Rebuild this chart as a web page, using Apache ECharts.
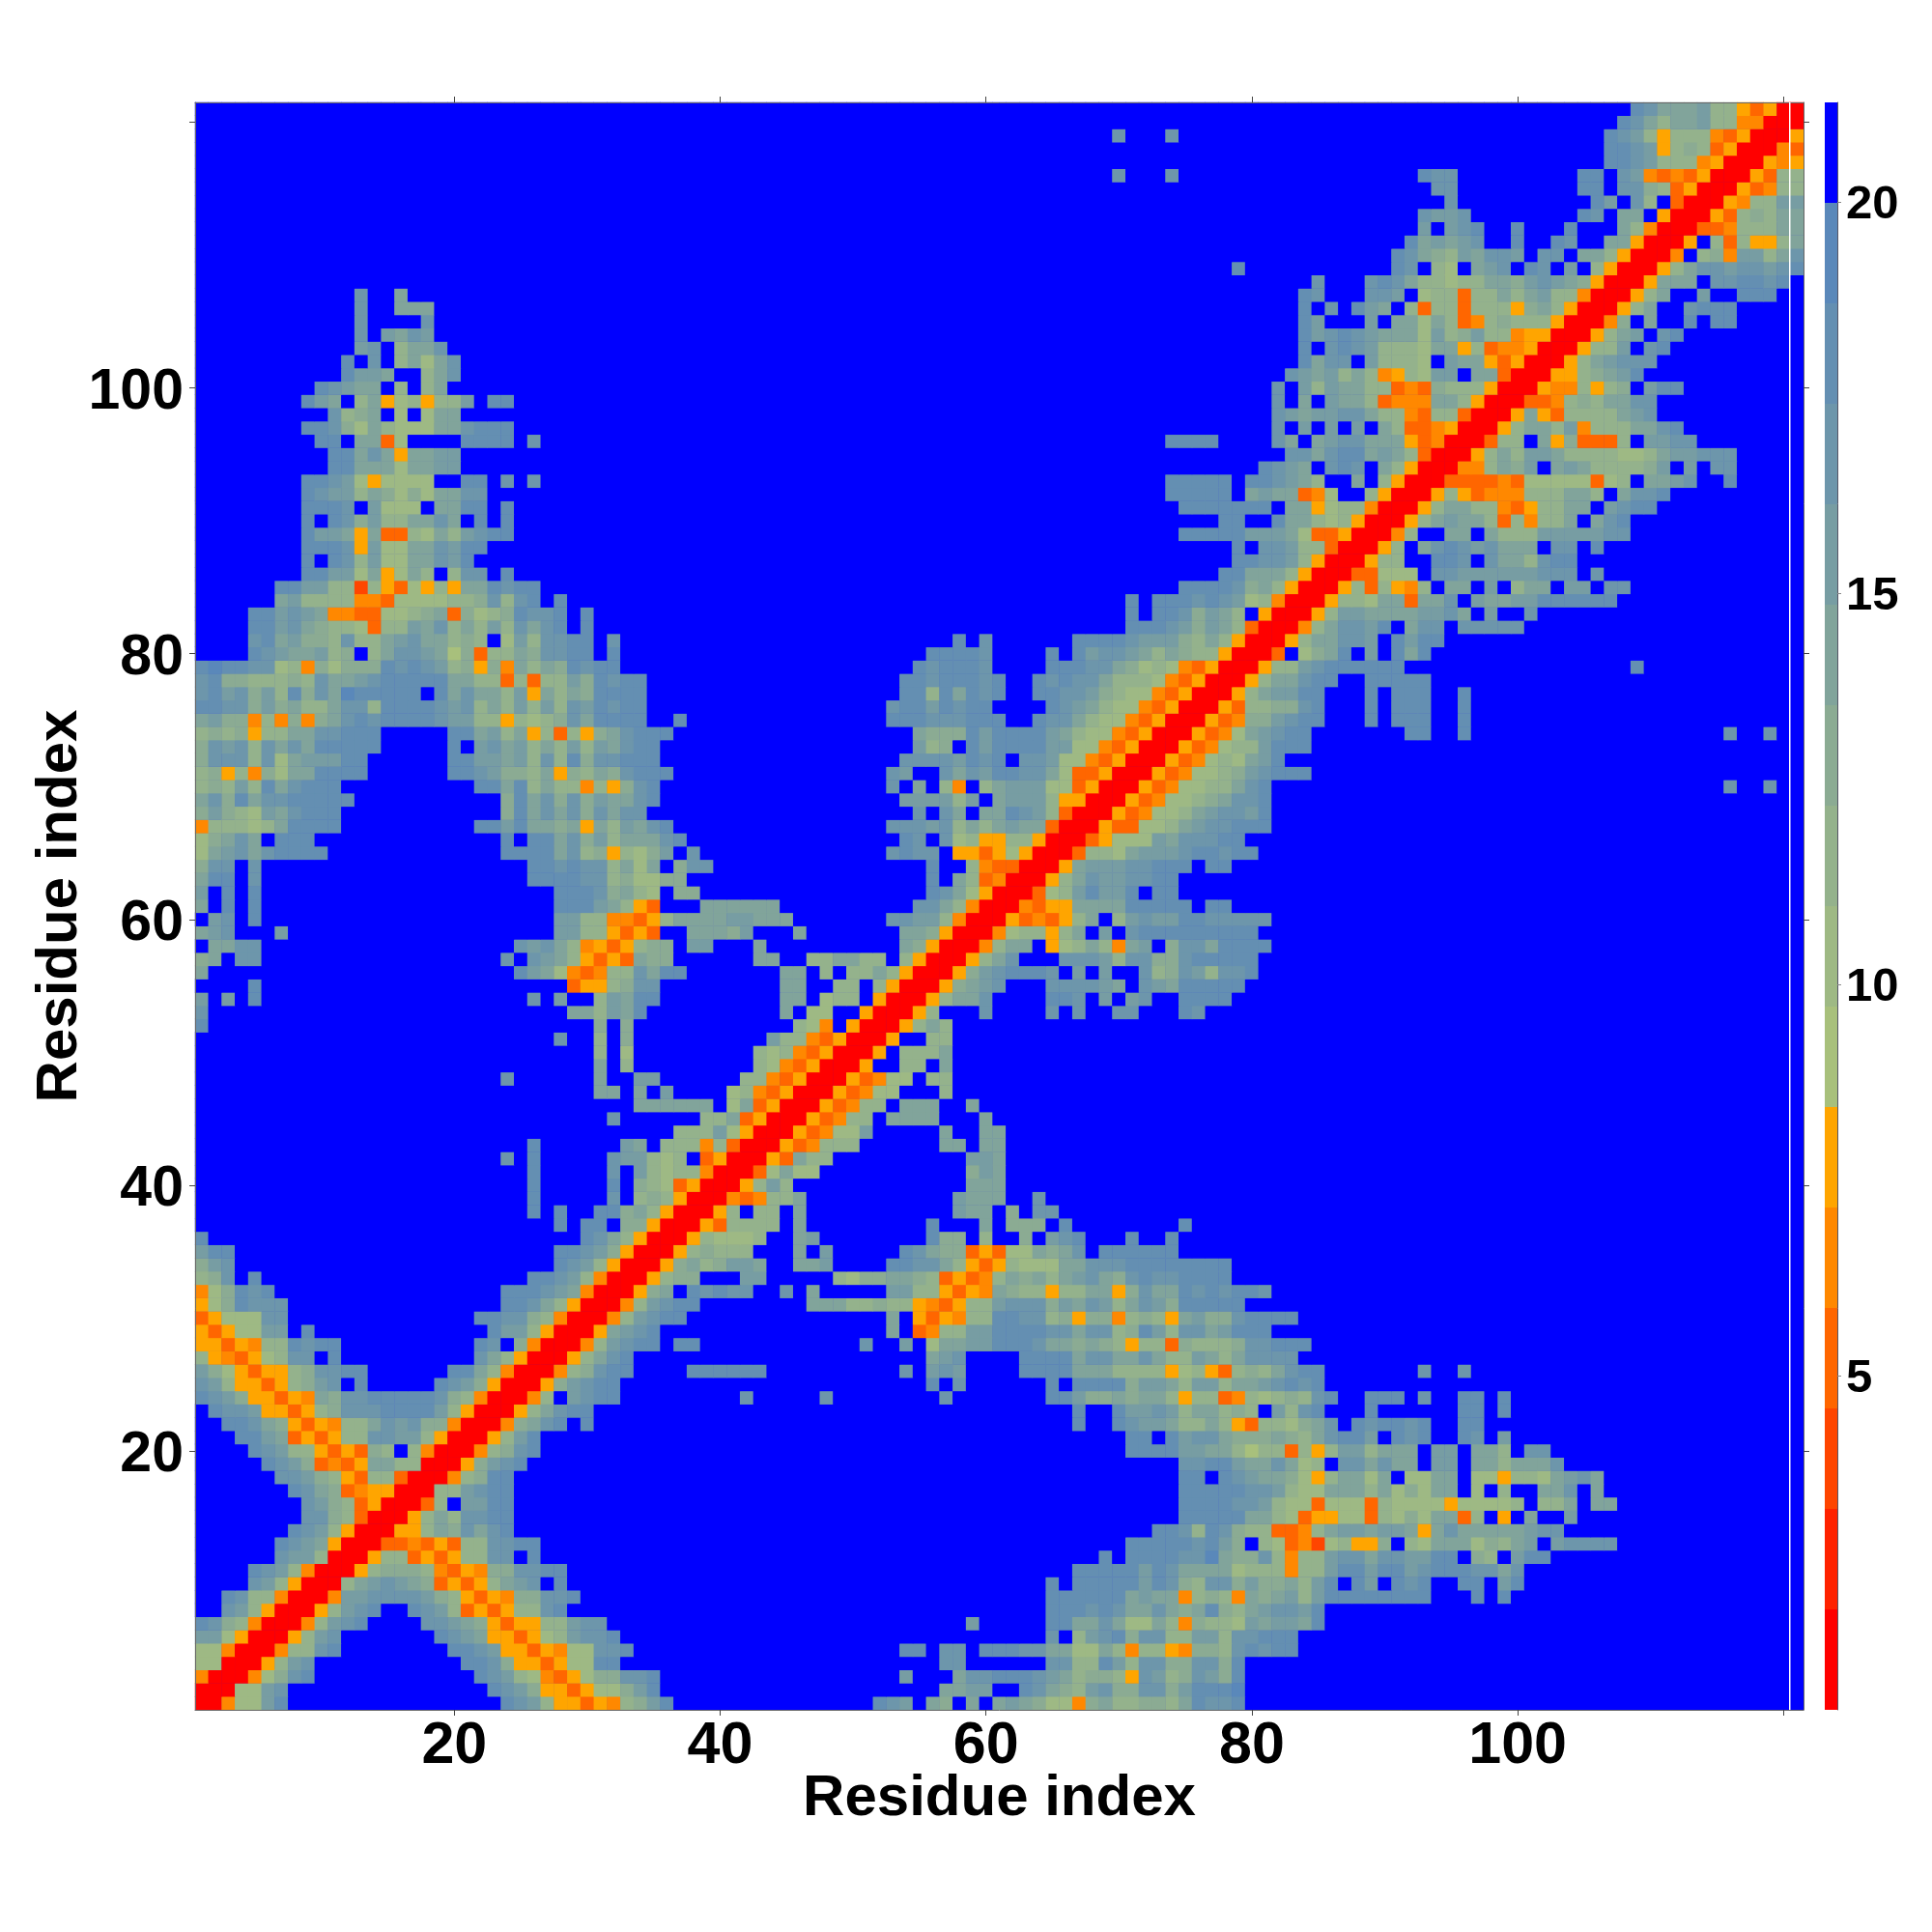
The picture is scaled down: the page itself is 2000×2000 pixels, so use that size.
<!DOCTYPE html>
<html>
<head>
<meta charset="utf-8">
<style>html,body{margin:0;padding:0;background:#fff}#c{width:2000px;height:2000px}</style>
<script src="https://cdn.jsdelivr.net/npm/echarts@6/dist/echarts.min.js"></script>
</head>
<body>
<div id="c"></div>
<script>
// Contact map. One entry per residue y (1..121): "x:levels" runs for x >= y,
// levels are colour-band numbers in hex (0 red .. e steel); anything unlisted is band f (blue).
const upperRows = [
"1:00477bd 24:dcb85535489bd 52:dcb 56:a9 59:a 61:aba97749a88998adccd",
"2:0077bc 23:dcb95535779bd 57:aabb 63:dca98bc99cc9bddde",
"3:00479cd 22:dcb87435799ccd 54:b 58:accdddcba89985cb89cb9d",
"4:0058bc 21:ddc9553577dd 57:cc 65:cc88db8cc99cc9d",
"5:00488cd 20:ddcb5535477ccd 54:dd 57:cc 60:dddccaa77a848854998cdcdd",
"6:0058bc 19:dcba553578bccd 65:c 67:8bcd9cc88bb8ccddd",
"7:0048bcd 18:ccba9535588bcc 59:b 65:ddaaca77a849887babbad",
"8:0058bcd 17:dcb8353588cd 65:dddcdcaaca9ad98abccbd",
"9:004bbccccb98535499ccd 65:ddddddabaa48984a9ab8bdddddddd 97:d 99:d",
"10:008abcba935358abc 28:d 65:d 67:dddddbdc98cc9b99a8bd 88:db 91:dcd 96:dd 99:bd",
"11:00589998435499ccdd 67:dddddbdcaaaa7888488bddbddbcdddccac",
"12:00588353588cc 26:d 69:d 71:ddddccea99c8488bccaccbbdd 97:98 100:bdd",
"13:0033435388ccdd 71:dddddcdb9 81:8734278559 92:87aaa798ab 103:bcccc",
"14:00558a9cacd 73:ddc8dc9883348abbabba5acaaaaabcc",
"15:0058a8ccdd 75:dddddaa873557738797aa38 99:5 101:a 104:b",
"16:0038 21:bbdd 75:ddddccb8773777387777577778 102:88a 106:aa",
"17:0088bcdd 75:dddddccb877aaa8a797aa 97:7 99:8 102:aac 106:a",
"18:00489dd 75:dd 78:dcbaa9758aa7a 92:77aa 97:775887abca",
"19:0059bcd 75:ccddbaaca78 87:ccacaa 94:bb 97:aa8aaac",
"20:00489cd 71:ddddbbaa86883858bb8aaa 94:bb 97:aa8 101:cc",
"21:0058bd 71:dd 74:dbcca999a98acddb 91:dcd 96:dc 99:b",
"22:0049acd 30:d 67:d 70:dcbba88a8538879ac 88:dcddcd 96:dd",
"23:0058acdd 67:d 70:dbbcb8aa898 82:b8cd 89:d 96:dd 99:d",
"24:0048 29:bcdd 42:c 48:c 57:c 65:ddb99a9aa85883487898cd 89:ddd 93:c 96:dd 99:d",
"25:0059bcdd 56:d 58:c 65:d 67:dddd9bba8bb8aabcdcd",
"26:00489cdd 38:dddddd 54:c 56:bcb 63:ddddaaa888857853898acdd 93:c 96:c",
"27:0058acd 56:abc 63:ddddaccaaca88ba8acccc",
"28:0048bcdd 37:dd 51:c 54:b 56:7aabbdddcaa9a98588398889ccddd",
"29:005abcd 53:a 55:3488bbddddccacc89db8ccabddd",
"30:0048bcdd 53:a 55:535488ddcc8959948985ab99cdddd",
"31:0048bcdd 47:aaa88988543588bccc9bacb8acb9ddddd",
"32:0059a 38:dcdcc 45:c 47:a 53:bb885354a988588aa59caadcdcddc",
"33:005899 42:bb 49:8799aa9835348a9a8abca9cdccdddd",
"34:0059a89bba 46:aab 53:ddcca85358777aacccdddddddd",
"35:00589888 46:a 48:b 54:dca9935377a9ac 69:dddddd",
"36:00587778 46:ab 56:d99 60:8 63:9 65:bcd 71:d 74:d",
"37:00538888 46:a 56:d 60:a 62:999 66:d 75:d",
"38:0058 43:88 46:a 58:baa 62:9 64:cc",
"39:0043488a 58:baaa 64:c",
"40:0058b8 59:aaa",
"41:0037a77 59:9ba",
"42:0053a88 59:bba",
"43:00534888 57:aa 60:aa",
"44:0053477b 57:a 60:aa",
"45:0053488 53:aaaa 60:a",
"46:0053488 54:aaa 59:a",
"47:0053477 57:8",
"48:0053477 56:88",
"49:005 54:88 57:a",
"50:005 54:888a",
"51:005 56:88",
"52:0058a8",
"53:0058 60:c 65:c 67:c 70:cc 75:dc",
"54:0058aac 65:ddc 69:b 71:bc 75:dddd",
"55:0059abc 65:ccccba 72:cbaddddd",
"56:0059bcdddc 67:b 69:b 72:c89cb8ccd",
"57:0058ac 66:cccb8cc99cddddd",
"58:0048aa 65:578a84ab 74:9ccadddd",
"59:00478858a 69:b 71:cddddddddd",
"60:00534358a 70:8bcbbddccccc",
"61:004355aaaaddddd 77:dd",
"62:00378bdbbd 73:dd",
"63:0058acbbccdd",
"64:005abbbccddd 77:dd",
"65:003887abbbcddcdd",
"66:0035777bacccdd",
"67:00533778abccddd",
"68:00534778abccbd",
"69:005347789accd",
"70:005347788acd 116:c 119:c",
"71:005347789bcddd",
"72:00534787abd",
"73:00534788bddd",
"74:005347abcdd 92:dd 96:d 116:c 119:c",
"75:0053499bcdd 89:d 91:ddd 96:d",
"76:00538899cd 89:d 91:ddd 96:d",
"77:0058abbdd 89:d 91:ddd 96:d",
"78:0058aacdd 89:ddddd",
"79:00588bcdddddd 109:d",
"80:003 84:79ad 89:b 91:dad",
"81:0058aaccb 91:dbdd",
"82:0048accbd 92:acc 96:ccccc",
"83:0058bbaaaabbca 98:b 101:c",
"84:005887aa3aac 97:baabbdddddd",
"85:005838548 95:aa 98:b 100:8aa 104:bb 107:cc",
"86:0033777 94:ccbbbbbbccc 106:c",
"87:00588 94:ddc 98:caa8cdd",
"88:0058 93:acdcbcaaa 103:cc 106:d",
"89:0048 95:aa 98:a888bbbbbcc",
"90:0058abaa838488a 106:acd",
"91:0058aa8843588aa 107:bcdd",
"92:005853444888aa8 108:accd",
"93:0033334377777378 110:aabc 116:d",
"94:00448a9b 103:aba88889b 113:b 115:cc",
"95:0058a8bba8888778abbccc",
"96:00388 102:a593338 110:bbcc",
"97:0058aa8b4888aacd",
"98:005a538888abc",
"99:00334898aacc",
"100:005448589 110:bdd",
"101:005589abd",
"102:0058abccc",
"103:00588b 110:cd",
"104:0058ab 111:cd",
"105:0049 110:a 113:d 115:dd",
"106:0058a 113:cddd",
"107:0058a 114:b 117:ddd",
"108:005aaa 115:ccddcd",
"109:0058accbccbcd",
"110:004 114:894bb8ac",
"111:005 115:838558a",
"112:00334888aa",
"113:0053898aa",
"114:005488bb",
"115:0053488",
"116:005388",
"117:00545",
"118:0043",
"119:005",
"120:00",
"121:0"
];
const residues = Array.from({length: 121}, (_, i) => String(i + 1));
const tickedResidues = ['20', '40', '60', '80', '100', '120'];
const labelledResidues = ['20', '40', '60', '80', '100'];
const bandColors = ['#ff0000','#ff2200','#ff4500','#ff6600','#ff8800','#ffa500',
  '#a8c07c','#9eb984','#94b28c','#8bab93','#81a49b','#779da3','#6d96ab','#648fb2','#5a88ba','#0000ff'];
const scaleMin = 0.73, scaleMax = 21.28;
const colorbarTicks = [5, 10, 15, 20];
const FONT = '"Liberation Sans", Arial, sans-serif';

const bandWidth = (scaleMax - scaleMin) / bandColors.length;
const levelValue = L => scaleMin + bandWidth * (L + 0.5);
const matrix = residues.map(() => residues.map(() => 15));
upperRows.forEach((row, yi) => {
  row.split(' ').forEach(seg => {
    const [start, levels] = seg.split(':');
    [...levels].forEach((ch, k) => {
      const xi = +start - 1 + k;
      if (xi < 121) { matrix[yi][xi] = parseInt(ch, 16); matrix[xi][yi] = parseInt(ch, 16); }
    });
  });
});
const cells = [];
matrix.forEach((r, yi) => r.forEach((L, xi) => cells.push([xi, yi, levelValue(L)])));
const bands = bandColors.map((c, i) => [scaleMin + i * bandWidth, scaleMin + (i + 1) * bandWidth, i]);

const tickFn = (i, v) => tickedResidues.includes(v);
const labelFn = (i, v) => labelledResidues.includes(v);
const frame = {show: true, onZero: false, lineStyle: {color: '#666', width: 1}};
const tick = {show: true, alignWithLabel: true, interval: tickFn, length: 6, inside: false, lineStyle: {color: '#444', width: 1}};

const chart = echarts.init(document.getElementById('c'), null, {renderer: 'canvas'});
chart.setOption({
  backgroundColor: '#fff',
  animation: false,
  grid: [
    {left: 202, top: 106, width: 1665, height: 1664, show: true, backgroundColor: '#0000ff', borderWidth: 0},
    {left: 1889, top: 106, width: 13, height: 1664}
  ],
  xAxis: [
    {type: 'category', data: residues, gridIndex: 0, position: 'bottom', z: 5, axisLine: frame, axisTick: tick,
     splitLine: {show: false},
     axisLabel: {interval: labelFn, fontFamily: FONT, fontWeight: 'bold', fontSize: 61, color: '#000', margin: 8},
     name: 'Residue index', nameLocation: 'center', nameGap: 62, nameMoveOverlap: false,
     nameTextStyle: {fontFamily: FONT, fontWeight: 'bold', fontSize: 60, color: '#000'}},
    {type: 'category', data: residues, gridIndex: 0, position: 'top', z: 5, axisLine: frame, axisTick: tick,
     axisLabel: {show: false}, splitLine: {show: false}},
    {type: 'value', gridIndex: 1, min: 0, max: 1, show: false}
  ],
  yAxis: [
    {type: 'category', data: residues, gridIndex: 0, position: 'left', z: 5, axisLine: frame, axisTick: tick,
     splitLine: {show: false},
     axisLabel: {interval: labelFn, fontFamily: FONT, fontWeight: 'bold', fontSize: 59, color: '#000', margin: 12, verticalAlign: 'top', lineHeight: 10},
     name: 'Residue index', nameLocation: 'center', nameGap: 110, nameRotate: 90, nameMoveOverlap: false,
     nameTextStyle: {fontFamily: FONT, fontWeight: 'bold', fontSize: 60, color: '#000'}},
    {type: 'category', data: residues, gridIndex: 0, position: 'right', z: 5, axisLine: frame, axisTick: tick,
     axisLabel: {show: false}, splitLine: {show: false}},
    {type: 'value', gridIndex: 1, position: 'right', min: scaleMin, max: scaleMax, z: 5,
     axisLine: {show: true, onZero: false, lineStyle: {color: '#556', width: 1}},
     axisTick: {show: true, customValues: colorbarTicks, length: 4, lineStyle: {color: '#888', width: 1}},
     splitLine: {show: false},
     axisLabel: {customValues: colorbarTicks, fontFamily: FONT, fontWeight: 'bold', fontSize: 49, color: '#000', margin: 9, verticalAlign: 'top', lineHeight: 6}}
  ],
  visualMap: {
    show: false, type: 'piecewise', seriesIndex: 0, dimension: 2,
    pieces: bandColors.map((c, i) => ({gte: scaleMin + i * bandWidth, lt: scaleMin + (i + 1) * bandWidth, color: c}))
  },
  series: [
    {type: 'heatmap', xAxisIndex: 0, yAxisIndex: 0, data: cells, progressive: 0, itemStyle: {borderWidth: 0}, emphasis: {disabled: true}},
    {type: 'custom', xAxisIndex: 2, yAxisIndex: 2, data: bands, silent: true, clip: false,
     encode: {x: -1, y: [0, 1]},
     renderItem: (params, api) => {
       const p0 = api.coord([0, api.value(0)]);
       const p1 = api.coord([1, api.value(1)]);
       return {type: 'rect',
         shape: {x: p0[0], y: Math.round(p1[1]), width: p1[0] - p0[0], height: Math.round(p0[1]) - Math.round(p1[1])},
         style: {fill: bandColors[api.value(2)]}};
     }}
  ],
  graphic: [{type: 'rect', z: 20, silent: true, shape: {x: 1852, y: 106, width: 1.5, height: 1664}, style: {fill: '#fff'}}]
});
</script>
</body>
</html>
